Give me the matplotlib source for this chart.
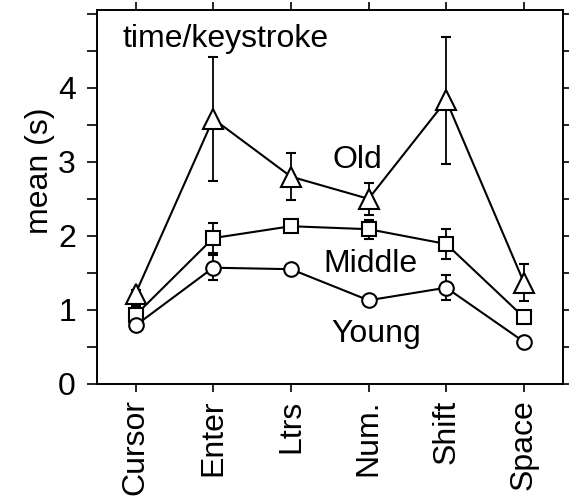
import matplotlib
matplotlib.use("Agg")
import matplotlib.pyplot as plt
from matplotlib.ticker import MultipleLocator

plt.rcParams['font.family'] = ['Liberation Sans', 'DejaVu Sans']

categories = ["Cursor", "Enter", "Ltrs", "Num.", "Shift", "Space"]
old_mean = [1.22, 3.58, 2.80, 2.50, 3.83, 1.37]
old_err = [0.05, 0.84, 0.32, 0.22, 0.86, 0.25]
middle_mean = [0.93, 1.97, 2.13, 2.09, 1.89, 0.90]
middle_err = [0.12, 0.20, 0.08, 0.13, 0.20, 0.05]
young_mean = [0.79, 1.57, 1.55, 1.13, 1.30, 0.57]
young_err = [0.05, 0.17, 0.04, 0.04, 0.17, 0.04]

fig = plt.figure(figsize=(5.69, 4.99), dpi=100)
ax = fig.add_axes([0.170, 0.2305, 0.819, 0.7495])

x = list(range(len(categories)))
common = dict(color='black', lw=1.5, elinewidth=1.3, capsize=3.6, capthick=1.3,
              mfc='white', mec='black', mew=1.5)
ax.errorbar(x, old_mean, yerr=old_err, fmt='-^', ms=14, **common)
ax.errorbar(x, middle_mean, yerr=middle_err, fmt='-s', ms=10, **common)
ax.errorbar(x, young_mean, yerr=young_err, fmt='-o', ms=10.5, **common)

fs = 23
ax.text(-0.17, 4.66, "time/keystroke", fontsize=fs, ha='left', va='center')
ax.text(2.85, 3.03, "Old", fontsize=fs, ha='center', va='center')
ax.text(3.03, 1.62, "Middle", fontsize=fs, ha='center', va='center')
ax.text(3.1, 0.68, "Young", fontsize=fs, ha='center', va='center')

ax.set_xlim(-0.5, 5.5)
ax.set_ylim(0, 5.05)
ax.set_xticks(x)
ax.set_xticklabels(categories, rotation=90, fontsize=fs)
ax.set_yticks([0, 1, 2, 3, 4])
ax.set_yticklabels(["0", "1", "2", "3", "4"], fontsize=fs)
ax.yaxis.set_minor_locator(MultipleLocator(0.5))
ax.set_ylabel("mean (s)", fontsize=fs)
ax.yaxis.set_label_coords(-0.09, 0.571)

ax.tick_params(axis='both', which='both', direction='out', width=1.2)
ax.tick_params(axis='x', which='major', length=6, top=True, pad=5)
ax.tick_params(axis='y', which='both', length=7, right=True, pad=8)
for s in ax.spines.values():
    s.set_linewidth(1.4)

fig.savefig("out.png", dpi=100)
